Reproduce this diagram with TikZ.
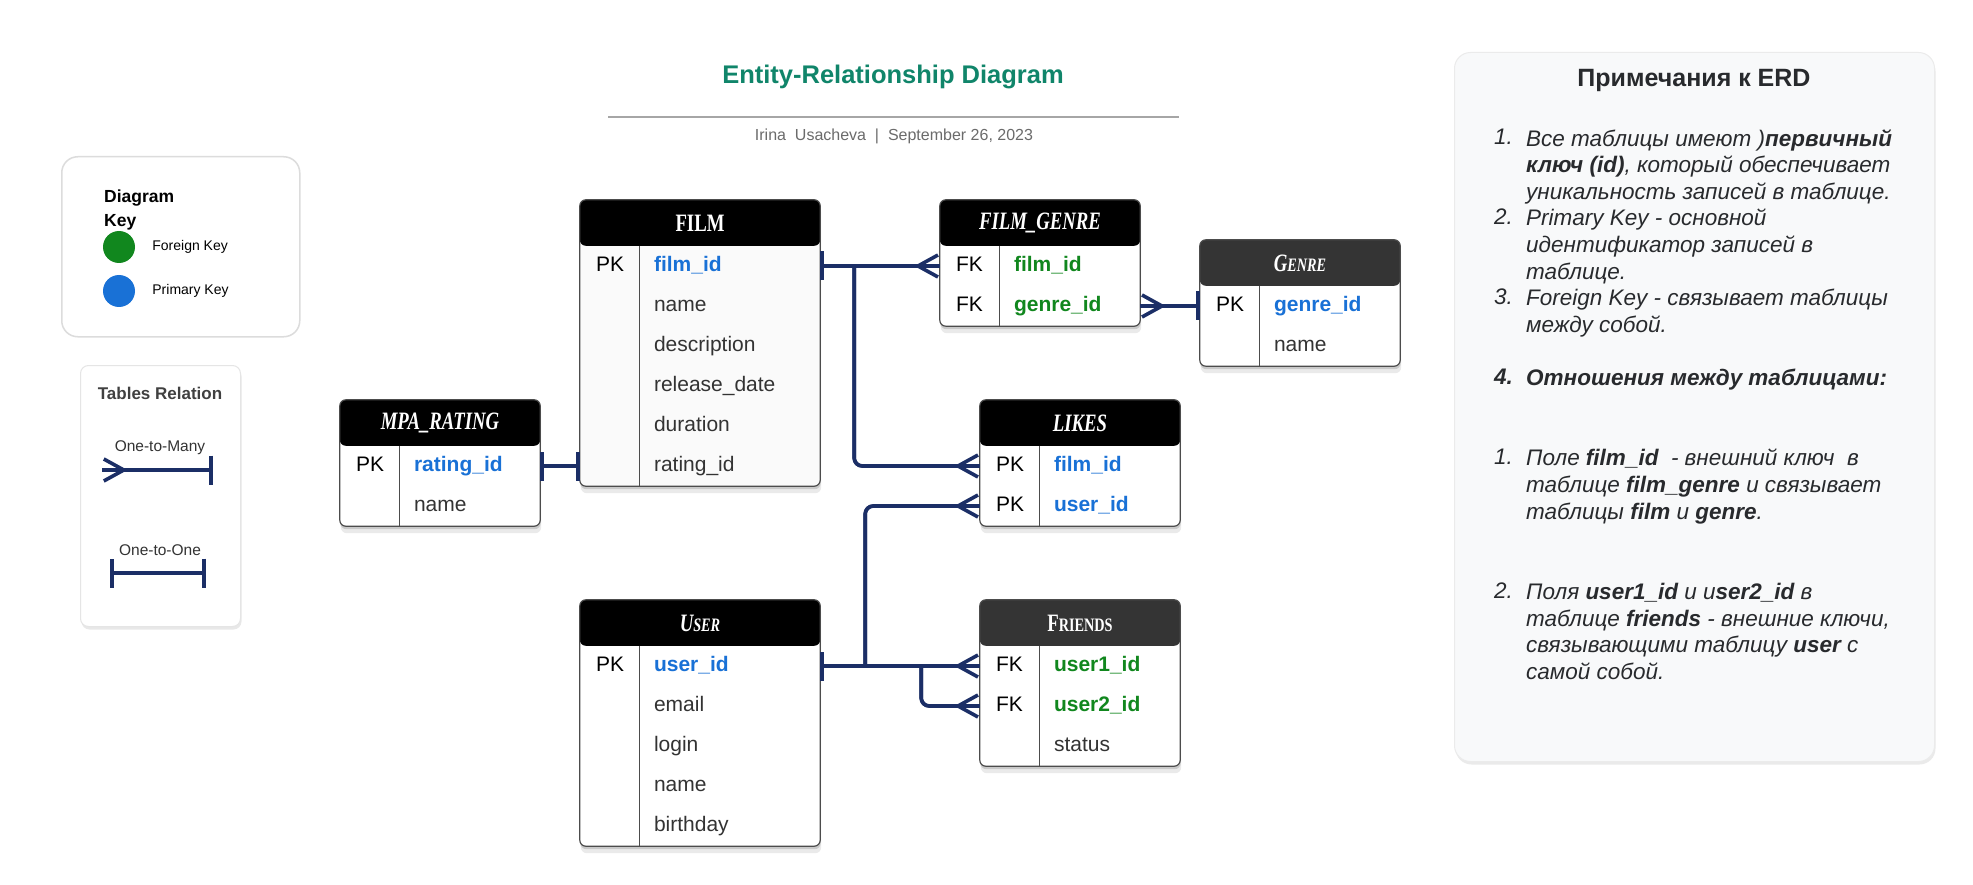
\documentclass[tikz,border=0pt]{standalone}
\usepackage{fontspec}
\setmainfont{Liberation Sans}
\newfontfamily\headfont[FakeStretch=0.75]{Liberation Serif}
\usetikzlibrary{arrows.meta,positioning,fit,shadows}
\pgfdeclarelayer{background}
\pgfsetlayers{background,main}

\definecolor{navy}{RGB}{27,46,102}
\definecolor{pkblue}{RGB}{25,113,214}
\definecolor{fkgreen}{RGB}{17,135,30}
\definecolor{titlegreen}{RGB}{16,133,106}
\definecolor{ink}{RGB}{51,51,51}
\definecolor{notesink}{RGB}{40,42,45}
\definecolor{headgray}{RGB}{52,52,52}
\definecolor{panelgray}{RGB}{248,249,250}
\definecolor{softgray}{RGB}{220,220,220}

\newcommand\fieldfont{\fontsize{21}{25}\selectfont}
\newcommand\notefont{\fontsize{22.5}{26.7}\selectfont}
\newcommand\scsmall[1]{{\fontsize{19}{19}\selectfont #1}}

\tikzset{crowfoot/.tip={Straight Barb[reversed,length=20pt,width=22pt,line width=3.6pt]},
         onebar/.tip={Bar[width=29pt,line width=4pt]}}
\tikzset{softshadow/.style={drop shadow={shadow xshift=0.5pt,shadow yshift=-3pt,opacity=0.3},
                            drop shadow={shadow xshift=1pt,shadow yshift=-7pt,opacity=0.16}},
  tablebox/.style={draw=black!70,line width=1.2pt,rounded corners=6pt,inner sep=0pt,softshadow,
    path picture={\fill[#1] (path picture bounding box.north west) rectangle
      ([yshift=-46pt]path picture bounding box.north east);}},
  tablebox/.default=black}
\tikzstyle{relline}=[draw=navy,line width=3.6pt,postaction={draw=navy,line width=3.6pt,arrows=-}]
\tikzstyle{tablehead}=[minimum height=46pt,inner sep=0pt,text=white,font=\headfont\bfseries\fontsize{25}{25}\selectfont]
\tikzstyle{fieldrow}=[minimum height=40pt,inner sep=0pt]
\tikzstyle{keylabel}=[anchor=west,xshift=16pt,inner sep=0pt,text height=15pt,text depth=4.5pt,font=\fieldfont,text=black]
\tikzstyle{field}=[anchor=west,xshift=74pt,inner sep=0pt,text height=15pt,text depth=4.5pt,font=\fieldfont,text=ink]
\tikzstyle{pkfield}=[field,font=\fieldfont\bfseries,text=pkblue]
\tikzstyle{fkfield}=[field,font=\fieldfont\bfseries,text=fkgreen]
\tikzstyle{divider}=[draw=black!70,line width=1.2pt]
\tikzstyle{keybox}=[draw=softgray,line width=1.5pt,rounded corners=16pt,fill=white]
\tikzstyle{relbox}=[draw=black!10,line width=1pt,rounded corners=8pt,fill=white,
    drop shadow={shadow xshift=1pt,shadow yshift=-3pt,opacity=0.18}]
\tikzstyle{notebox}=[draw=black!8,line width=1pt,rounded corners=16pt,fill=panelgray,
    drop shadow={shadow xshift=1pt,shadow yshift=-3pt,opacity=0.16}]
\tikzstyle{keydot}=[circle,minimum size=32pt,inner sep=0pt]
\tikzstyle{keyname}=[inner sep=0pt,font=\fontsize{14}{16}\selectfont]
\tikzstyle{relname}=[inner sep=0pt,text=ink,font=\fontsize{15.5}{18}\selectfont]
\tikzstyle{notetext}=[anchor=north west,align=left,inner sep=0pt,text=notesink,font=\notefont\itshape]
\tikzstyle{notenum}=[notetext]

\begin{document}
\begin{tikzpicture}[x=1pt,y=-1pt]
  \useasboundingbox (0,0) rectangle (1973,885);

  % Heading
  \node[font=\bfseries\fontsize{25.5}{28}\selectfont,text=titlegreen] (title) at (893,77) {Entity-Relationship Diagram};
  \coordinate (rule-a) at (608,117);
  \coordinate (rule-b) at (1179,117);
  \draw[black!35,line width=1.5pt] (rule-a) -- (rule-b);
  \node[font=\fontsize{16}{18}\selectfont,text=black!58] (byline) at (894,136) {Irina\ \ Usacheva\ \ |\ \ September 26, 2023};

  % Diagram key
  \node[keybox,minimum width=238pt,minimum height=180pt,anchor=north west] (diagram-key) at (61,156) {};
  \node[anchor=north west,align=left,inner sep=0pt,font=\bfseries\fontsize{17.5}{24}\selectfont] (key-title) at (104,190) {Diagram\\Key};
  \node[keydot,fill=fkgreen] (fk-dot) at (119,247) {};
  \node[keyname,right=17pt of fk-dot] (fk-name) {Foreign Key};
  \node[keydot,fill=pkblue] (pk-dot) at (119,291) {};
  \node[keyname,right=17pt of pk-dot] (pk-name) {Primary Key};

  % Relation legend
  \node[relbox,minimum width=160pt,minimum height=261pt,anchor=north west] (relations) at (80,365) {};
  \node[inner sep=0pt,text=black!75,font=\bfseries\fontsize{17}{20}\selectfont] (rel-title) at (160,393) {Tables Relation};
  \node[relname] (otm-name) at (160,448) {One-to-Many};
  \coordinate (otm-a) at (102,470);
  \coordinate (otm-b) at (213,470);
  \draw[relline,crowfoot-onebar] (otm-a) -- (otm-b);
  \node[relname] (oto-name) at (160,550) {One-to-One};
  \coordinate (oto-a) at (110,573);
  \coordinate (oto-b) at (206,573);
  \draw[relline,onebar-onebar] (oto-a) -- (oto-b);

  % Tables: a header, then one row per field
  \node[tablehead,minimum width=240pt] (film) at (700,223) {FILM};
  \foreach \i/\k/\f/\s in {1/PK/film\_id/pkfield, 2//name/field, 3//description/field,
                           4//release\_date/field, 5//duration/field, 6//rating\_id/field}
    \node[fieldrow,minimum width=240pt,label={[keylabel]west:\k},label={[\s]west:\f}] (film-\i) at (700,{226+40*\i}) {};

  \node[tablehead,minimum width=200pt] (fg) at (1040,223) {\itshape FILM\_GENRE};
  \foreach \i/\k/\f/\s in {1/FK/film\_id/fkfield, 2/FK/genre\_id/fkfield}
    \node[fieldrow,minimum width=200pt,label={[keylabel]west:\k},label={[\s]west:\f}] (fg-\i) at (1040,{226+40*\i}) {};

  \node[tablehead,minimum width=200pt] (genre) at (1300,263) {\itshape G\scsmall{ENRE}};
  \foreach \i/\k/\f/\s in {1/PK/genre\_id/pkfield, 2//name/field}
    \node[fieldrow,minimum width=200pt,label={[keylabel]west:\k},label={[\s]west:\f}] (genre-\i) at (1300,{266+40*\i}) {};

  \node[tablehead,minimum width=200pt] (mpa) at (440,423) {\itshape MPA\_RATING};
  \foreach \i/\k/\f/\s in {1/PK/rating\_id/pkfield, 2//name/field}
    \node[fieldrow,minimum width=200pt,label={[keylabel]west:\k},label={[\s]west:\f}] (mpa-\i) at (440,{426+40*\i}) {};

  \node[tablehead,minimum width=200pt] (likes) at (1080,423) {\itshape LIKES};
  \foreach \i/\k/\f/\s in {1/PK/film\_id/pkfield, 2/PK/user\_id/pkfield}
    \node[fieldrow,minimum width=200pt,label={[keylabel]west:\k},label={[\s]west:\f}] (likes-\i) at (1080,{426+40*\i}) {};

  \node[tablehead,minimum width=240pt] (user) at (700,623) {\itshape U\scsmall{SER}};
  \foreach \i/\k/\f/\s in {1/PK/user\_id/pkfield, 2//email/field, 3//login/field,
                           4//name/field, 5//birthday/field}
    \node[fieldrow,minimum width=240pt,label={[keylabel]west:\k},label={[\s]west:\f}] (user-\i) at (700,{626+40*\i}) {};

  \node[tablehead,minimum width=200pt] (friends) at (1080,623) {F\scsmall{RIENDS}};
  \foreach \i/\k/\f/\s in {1/FK/user1\_id/fkfield, 2/FK/user2\_id/fkfield, 3//status/field}
    \node[fieldrow,minimum width=200pt,label={[keylabel]west:\k},label={[\s]west:\f}] (friends-\i) at (1080,{626+40*\i}) {};

  % Frames behind the rows
  \begin{pgfonlayer}{background}
    \fill[white] (0,0) rectangle (1973,885);
    \node[tablebox,fill=black!2,fit=(film)(film-6)] (film-box) {};
    \node[tablebox,fill=white,fit=(fg)(fg-2)] (fg-box) {};
    \node[tablebox=headgray,fill=white,fit=(genre)(genre-2)] (genre-box) {};
    \node[tablebox,fill=white,fit=(mpa)(mpa-2)] (mpa-box) {};
    \node[tablebox,fill=white,fit=(likes)(likes-2)] (likes-box) {};
    \node[tablebox,fill=white,fit=(user)(user-5)] (user-box) {};
    \node[tablebox=headgray,fill=white,fit=(friends)(friends-3)] (friends-box) {};
  \end{pgfonlayer}
  \foreach \t/\n in {film/6, fg/2, genre/2, mpa/2, likes/2, user/5, friends/3}
    \draw[divider] ([xshift=60pt]\t-1.north west) -- ([xshift=60pt]\t-\n.south west);

  % Relations
  \draw[relline,onebar-crowfoot] (film-1.east) -- (fg-1.west);
  \coordinate (film-join) at ([xshift=34pt]film-1.east);
  \draw[relline,-crowfoot,rounded corners=8pt] (film-join) |- (likes-1.west);
  \draw[relline,crowfoot-onebar] (fg-2.east) -- (genre-1.west);
  \draw[relline,onebar-onebar] (mpa-1.east) -- (film-6.west);
  \draw[relline,onebar-crowfoot] (user-1.east) -- (friends-1.west);
  \coordinate (user-join) at ([xshift=45pt]user-1.east);
  \draw[relline,-crowfoot,rounded corners=8pt] (user-join) |- (likes-2.west);
  \coordinate (friends-join) at ([xshift=101pt]user-1.east);
  \draw[relline,-crowfoot,rounded corners=8pt] (friends-join) |- (friends-2.west);

  % Notes
  \node[notebox,minimum width=480pt,minimum height=709pt,anchor=north west] (notes) at (1454,52) {};
  \node[text=notesink,font=\bfseries\fontsize{25}{28}\selectfont] (notes-title) at (1694,80) {Примечания к ERD};
  \foreach \j/\y/\n in {1/129/1., 2/209/2., 3/289/3., 5/449/1., 6/583/2.}
    \node[notenum] (note-num-\j) at (1494,\y) {\n};
  \node[notenum,font=\notefont\bfseries\itshape] (note-num-4) at (1494,369) {4.};
  \node[notetext] (note-1) at (1526,129) {Все таблицы имеют )\textbf{первичный}\\\textbf{ключ (id)}, который обеспечивает\\уникальность записей в таблице.};
  \node[notetext] (note-2) at (1526,209) {Primary Key - основной\\идентификатор записей в\\таблице.};
  \node[notetext] (note-3) at (1526,289) {Foreign Key - связывает таблицы\\между собой.};
  \node[notetext,font=\notefont\bfseries\itshape] (note-4) at (1526,369) {Отношения между таблицами:};
  \node[notetext] (note-5) at (1526,449) {Поле \textbf{film\_id}\ \ - внешний ключ\ \ в\\таблице \textbf{film\_genre} и связывает\\таблицы \textbf{film} и \textbf{genre}.};
  \node[notetext] (note-6) at (1526,583) {Поля \textbf{user1\_id} и u\textbf{ser2\_id} в\\таблице \textbf{friends} - внешние ключи,\\связывающими таблицу \textbf{user} с\\самой собой.};
\end{tikzpicture}
\end{document}
